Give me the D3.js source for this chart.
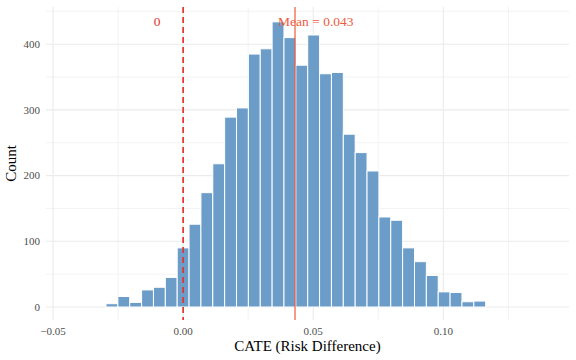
<!DOCTYPE html>
<html>
<head>
<meta charset="utf-8">
<script src="https://cdn.jsdelivr.net/npm/d3@7"></script>
<style>
  body { margin: 0; background: #fff; }
  svg { display: block; }
  text { font-family: "Liberation Serif", "Times New Roman", serif; }
</style>
</head>
<body>
<svg width="576" height="360"></svg>
<script>
// Histogram bins: bin k is centred at k * binWidth
const binWidth = 0.00456;
const binIndex = [-6, -5, -4, -3, -2, -1, 0, 1, 2, 3, 4, 5, 6, 7, 8, 9, 10, 11, 12,
                  13, 14, 15, 16, 17, 18, 19, 20, 21, 22, 23, 24, 25];
const counts   = [5, 16, 7, 26, 30, 45, 90, 126, 174, 218, 289, 303, 385, 393, 434, 410, 368, 414, 355,
                  357, 263, 235, 207, 137, 132, 90, 69, 48, 23, 22, 8, 9];

const meanValue = 0.043;
const xTicks = [-0.05, 0, 0.05, 0.10];
const xMinor = [-0.025, 0.025, 0.075, 0.125];
const yTicks = [0, 100, 200, 300, 400];
const yMinor = [50, 150, 250, 350, 450];

const svg = d3.select("svg");
const panel = { left: 46, right: 569, top: 7, bottom: 320 };

const x = d3.scaleLinear().domain([-0.0527, 0.1483]).range([panel.left, panel.right]);
const y = d3.scaleLinear().domain([-19.8, 456.6]).range([panel.bottom, panel.top]);

const grid = svg.append("g");

// minor gridlines
grid.selectAll(".xminor").data(xMinor).enter().append("line")
    .attr("x1", d => x(d)).attr("x2", d => x(d))
    .attr("y1", panel.top).attr("y2", panel.bottom)
    .attr("stroke", "#EBEBEB").attr("stroke-width", 0.6);
grid.selectAll(".yminor").data(yMinor).enter().append("line")
    .attr("x1", panel.left).attr("x2", panel.right)
    .attr("y1", d => y(d)).attr("y2", d => y(d))
    .attr("stroke", "#EBEBEB").attr("stroke-width", 0.6);

// major gridlines
grid.selectAll(".xmajor").data(xTicks).enter().append("line")
    .attr("x1", d => x(d)).attr("x2", d => x(d))
    .attr("y1", panel.top).attr("y2", panel.bottom)
    .attr("stroke", "#EBEBEB").attr("stroke-width", 1.1);
grid.selectAll(".ymajor").data(yTicks).enter().append("line")
    .attr("x1", panel.left).attr("x2", panel.right)
    .attr("y1", d => y(d)).attr("y2", d => y(d))
    .attr("stroke", "#EBEBEB").attr("stroke-width", 1.1);

// bars
const bins = binIndex.map((k, i) => ({ x0: (k - 0.5) * binWidth, x1: (k + 0.5) * binWidth, n: counts[i] }));
svg.append("g").selectAll("rect").data(bins).enter().append("rect")
    .attr("x", d => x(d.x0))
    .attr("width", d => x(d.x1) - x(d.x0))
    .attr("y", d => y(d.n))
    .attr("height", d => y(0) - y(d.n))
    .attr("fill", "#6B9DC8")
    .attr("stroke", "#fff")
    .attr("stroke-width", 1);

// reference lines
svg.append("line")
    .attr("x1", x(0)).attr("x2", x(0))
    .attr("y1", panel.top).attr("y2", panel.bottom)
    .attr("stroke", "#E5362E").attr("stroke-width", 1.7)
    .attr("stroke-dasharray", "6,4");
svg.append("line")
    .attr("x1", x(meanValue)).attr("x2", x(meanValue))
    .attr("y1", panel.top).attr("y2", panel.bottom)
    .attr("stroke", "#EE5A3E").attr("stroke-width", 1.2);

// annotations
svg.append("text")
    .attr("x", x(-0.01)).attr("y", y(435))
    .attr("dy", "0.35em").attr("text-anchor", "middle")
    .attr("font-size", 13.5).attr("fill", "#E5362E")
    .text("0");
svg.append("text")
    .attr("x", x(meanValue + 0.008)).attr("y", y(435))
    .attr("dy", "0.35em").attr("text-anchor", "middle")
    .attr("font-size", 13.5).attr("fill", "#EE5A3E")
    .text("Mean = " + meanValue.toFixed(3));

// tick labels
svg.append("g").selectAll("text").data(xTicks).enter().append("text")
    .attr("x", d => x(d)).attr("y", 335)
    .attr("text-anchor", "middle")
    .attr("font-size", 11).attr("fill", "#4D4D4D")
    .text(d => d3.format(".2f")(d).replace("-", "\u2212"));
svg.append("g").selectAll("text").data(yTicks).enter().append("text")
    .attr("x", 40).attr("y", d => y(d))
    .attr("dy", "0.35em").attr("text-anchor", "end")
    .attr("font-size", 11).attr("fill", "#4D4D4D")
    .text(d => d);

// axis titles
svg.append("text")
    .attr("x", (panel.left + panel.right) / 2).attr("y", 351)
    .attr("text-anchor", "middle")
    .attr("font-size", 15).attr("fill", "#000")
    .text("CATE (Risk Difference)");
svg.append("text")
    .attr("transform", `translate(16,${(panel.top + panel.bottom) / 2}) rotate(-90)`)
    .attr("text-anchor", "middle")
    .attr("font-size", 15).attr("fill", "#000")
    .text("Count");
</script>
</body>
</html>
